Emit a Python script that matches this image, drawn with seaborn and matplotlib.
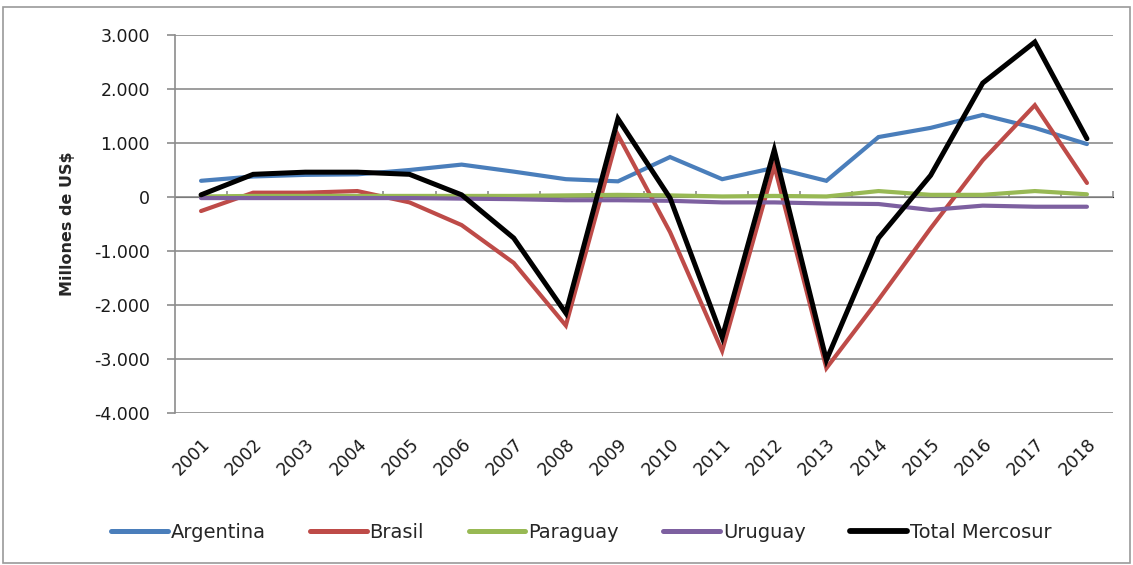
import matplotlib
matplotlib.use("Agg")
import matplotlib.pyplot as plt
import seaborn as sns
import pandas as pd
from matplotlib.ticker import FuncFormatter, MultipleLocator
from matplotlib.patches import Rectangle

years = list(range(2001, 2019))
argentina = [300, 380, 410, 420, 500, 600, 470, 330, 290, 740, 330, 540, 300, 1110, 1280, 1520, 1280, 980]
brasil = [-260, 80, 80, 110, -100, -520, -1220, -2380, 1150, -650, -2850, 580, -3170, -1900, -580, 680, 1700, 260]
paraguay = [10, 20, 20, 20, 20, 20, 20, 30, 40, 30, 10, 20, 10, 110, 40, 40, 110, 50]
uruguay = [-20, -20, -20, -20, -20, -30, -40, -60, -60, -70, -100, -100, -120, -130, -240, -160, -180, -180]
total = [40, 420, 460, 460, 420, 40, -760, -2150, 1450, -20, -2600, 870, -3020, -760, 400, 2110, 2870, 1080]

series_names = ["Argentina", "Brasil", "Paraguay", "Uruguay", "Total Mercosur"]
series_values = [argentina, brasil, paraguay, uruguay, total]
colors = ["#4A7EBB", "#BE4B48", "#98B954", "#7D60A0", "#000000"]
widths = [3.0, 3.0, 3.0, 3.0, 3.6]

rows = []
for name, vals in zip(series_names, series_values):
    for y, v in zip(years, vals):
        rows.append({"Año": y, "Valor": v, "Serie": name})
df = pd.DataFrame(rows)

sns.set_style("white")
plt.rcParams["font.family"] = ["DejaVu Sans"]

fig = plt.figure(figsize=(11.33, 5.65), dpi=100)
ax = fig.add_axes([175 / 1133, 1 - 413 / 565, (1113 - 175) / 1133, (413 - 35) / 565])

sns.lineplot(data=df, x="Año", y="Valor", hue="Serie", hue_order=series_names,
             palette=dict(zip(series_names, colors)), ax=ax, legend=True)
for line, lw in zip(ax.get_lines(), widths):
    line.set_linewidth(lw)
    line.set_solid_joinstyle("miter")

ax.set_xlim(years[0] - 0.5, years[-1] + 0.5)
ax.set_ylim(-4000, 3000)
ax.yaxis.set_major_locator(MultipleLocator(1000))
ax.yaxis.set_major_formatter(FuncFormatter(lambda v, p: f"{v:,.0f}".replace(",", ".")))
ax.grid(axis="y", color="#8c8c8c", linewidth=1.2)
ax.grid(axis="x", visible=False)
ax.set_axisbelow(True)
for s in ["top", "right", "bottom"]:
    ax.spines[s].set_visible(False)
ax.spines["left"].set_color("#8c8c8c")
ax.spines["left"].set_linewidth(1.2)

ax.set_xticks(years)
ax.set_xticklabels([str(y) for y in years], rotation=45, ha="right",
                   rotation_mode="anchor", fontsize=12.5, color="#1a1a1a")
ax.tick_params(axis="x", length=0, pad=16)
ax.tick_params(axis="y", length=6, width=1.2, color="#8c8c8c", direction="out",
               labelsize=12.5, labelcolor="#1a1a1a", pad=12, left=True)

# category boundary tick marks along the zero line
sec = ax.secondary_xaxis(4000 / 7000)
sec.set_xticks([y + 0.5 for y in years])
sec.set_xticklabels([])
sec.tick_params(axis="x", length=4, width=1.2, color="#8c8c8c", direction="out")
sec.spines["bottom"].set_color("#8c8c8c")
sec.spines["bottom"].set_linewidth(1.2)

ax.set_xlabel("")
ax.set_ylabel("Millones de US$", fontsize=11.5, fontweight="bold", labelpad=14)

handles, labels = ax.get_legend_handles_labels()
ax.get_legend().remove()
for h, lw in zip(handles, widths):
    h.set_linewidth(lw + 0.6)
fig.legend(handles, labels, loc="center", bbox_to_anchor=(0.513, 1 - 532 / 565),
           ncol=5, frameon=False, fontsize=14, handlelength=2.9,
           handletextpad=0.15, columnspacing=2.3)

fig.patches.append(Rectangle((0.003, 0.004), 0.994, 0.984, transform=fig.transFigure,
                             fill=False, edgecolor="#9a9a9a", linewidth=1.2))

fig.savefig("out.png", dpi=100)
